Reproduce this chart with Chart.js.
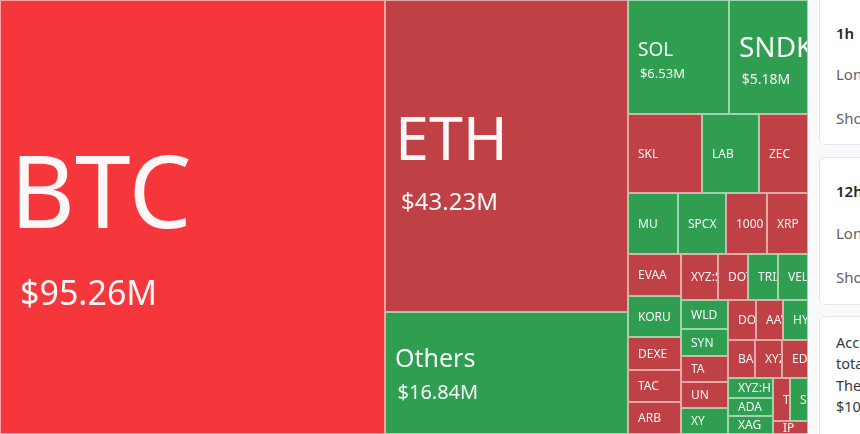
<!DOCTYPE html>
<html>
<head>
<meta charset="utf-8">
<script src="https://cdn.jsdelivr.net/npm/chart.js@4.4.1/dist/chart.umd.min.js"></script>
<style>
  html, body { margin:0; padding:0; width:860px; height:434px; overflow:hidden; background:#f8f9fa; font-family:"Noto Sans", sans-serif; }
  #wrap { position:absolute; left:0; top:0; width:808px; height:434px; overflow:hidden; background:#ffffff; }
  #tm { display:block; }
  .card { position:absolute; left:819px; width:300px; background:#fff; border:1px solid #e1e4e8; border-radius:6px; box-sizing:border-box; }
  .t { position:absolute; left:836px; white-space:nowrap; }
  .head { font-size:15px; line-height:20px; font-weight:600; color:#212529; }
  .row { font-size:15px; line-height:20px; color:#5f6368; }
  .note { font-size:14.5px; line-height:21.3px; color:#343a40; }
</style>
</head>
<body>
<div id="wrap"><canvas id="tm" width="808" height="434"></canvas></div>

<div class="card" style="top:-8px;height:153px"></div>
<div class="card" style="top:157px;height:148px"></div>
<div class="card" style="top:316px;height:140px"></div>

<div class="t head" style="top:23px">1h</div>
<div class="t row" style="top:64px">Long</div>
<div class="t row" style="top:108px">Short</div>
<div class="t head" style="top:181px">12h</div>
<div class="t row" style="top:223px">Long</div>
<div class="t row" style="top:267px">Short</div>
<div class="t note" style="top:332px">According<br>total<br>The<br>$10</div>

<script>
// ---- data (values in millions of USD) ----
const symbols = ["BTC","ETH","Others","SOL","SNDK","SKL","LAB","ZEC","MU","SPCX","1000","XRP","TA",
  "EVAA","KORU","DEXE","TAC","ARB","XYZ:SP","DOT","TRIA","VELVET","WLD","SYN",
  "UN","XY","DO","AAVE","HYPE","BASE","XYZ:H","XYZ:M","ED","IP","TAO","ADA","XAG","SENT"];
const liquidationsM = [95.26,43.23,16.84,6.53,5.18,3.29,2.57,2.21,1.71,1.67,1.43,1.43,0.70,
  1.25,1.22,1.00,0.97,0.95,0.95,0.78,0.78,0.78,0.78,0.75,
  0.70,0.70,0.64,0.62,0.59,0.57,0.52,0.57,0.55,0.27,0.43,0.45,0.45,0.43];
const dominantSide = ["long","long","short","short","short","long","short","long","short","short","long","long","long",
  "long","short","long","long","long","long","long","short","short","short","short",
  "long","short","long","long","short","long","short","long","long","long","long","short","short","short"];

// ---- styles ----
const COLORS = { long:'#bf4045', short:'#2f9e51', top:'#f5363a' };
const LABEL_FONTS = [ {name:100, value:34, shift:26}, {name:61, value:24, shift:14}, {name:25, value:20, shift:2}, {name:19, value:13, shift:4}, {name:28, value:14, shift:6} ];
const SMALL_FONT = 12;
const FONT = '"Noto Sans", sans-serif';
const ASPECT = 808 / 434;

// ---- layout (squarified, in data units) ----
const TOTAL = liquidationsM.reduce((a, b) => a + b, 0);
const X_MAX = Math.sqrt(TOTAL * ASPECT), Y_MAX = TOTAL / X_MAX;
const items = symbols.map((s, i) => ({ name:s, v:liquidationsM[i], side:dominantSide[i] }))
  .sort((a, b) => b.v - a.v);
items.forEach((d, i) => d.rank = i);

function squarify(nodes, x0, y0, x1, y1) {
  const out = [];
  const ratio = (1 + Math.sqrt(5)) / 2;
  let value = nodes.reduce((s, d) => s + d.v, 0);
  let i0 = 0; const n = nodes.length;
  while (i0 < n) {
    const dx = x1 - x0, dy = y1 - y0;
    let i1 = i0;
    let sum = nodes[i1++].v, minV = sum, maxV = sum;
    const alpha = Math.max(dy / dx, dx / dy) / (value * ratio);
    let beta = sum * sum * alpha;
    let minRatio = Math.max(maxV / beta, beta / minV);
    for (; i1 < n; ++i1) {
      const nv = nodes[i1].v;
      const s2 = sum + nv, mn = Math.min(minV, nv), mx = Math.max(maxV, nv);
      beta = s2 * s2 * alpha;
      const nr = Math.max(mx / beta, beta / mn);
      if (nr > minRatio) break;
      sum = s2; minV = mn; maxV = mx; minRatio = nr;
    }
    const row = nodes.slice(i0, i1);
    if (dx / dy <= 0.9) {
      const h = dy * sum / value; let x = x0;
      row.forEach(d => { const w = dx * d.v / sum; out.push(Object.assign({}, d, {x0:x, y0:y0, x1:x + w, y1:y0 + h})); x += w; });
      y0 += h;
    } else {
      const w = dx * sum / value; let y = y0;
      row.forEach(d => { const h = dy * d.v / sum; out.push(Object.assign({}, d, {x0:x0, y0:y, x1:x0 + w, y1:y + h})); y += h; });
      x0 += w;
    }
    value -= sum; i0 = i1;
  }
  return out;
}
const cells = squarify(items, 0, 0, X_MAX, Y_MAX);

const treemapPlugin = {
  id: 'treemapCells',
  afterDatasetsDraw(chart) {
    const { ctx } = chart; const xs = chart.scales.x, ys = chart.scales.y;
    ctx.save();
    const rects = cells.map(c => {
      const a = Math.round(xs.getPixelForValue(c.x0)), b = Math.round(xs.getPixelForValue(c.x1));
      const t = Math.round(ys.getPixelForValue(c.y0)), u = Math.round(ys.getPixelForValue(c.y1));
      return { c, x:a, y:t, w:b - a, h:u - t };
    });
    rects.forEach(r => {
      ctx.fillStyle = r.c.rank === 0 ? COLORS.top : COLORS[r.c.side];
      ctx.fillRect(r.x, r.y, r.w, r.h);
    });
    ctx.strokeStyle = 'rgba(255,255,255,0.55)'; ctx.lineWidth = 1;
    rects.forEach(r => { ctx.strokeRect(r.x + 0.5, r.y + 0.5, r.w - 1, r.h - 1); });
    rects.forEach(r => {
      const c = r.c;
      ctx.save();
      ctx.beginPath(); ctx.rect(r.x, r.y, r.w - 1, r.h - 1); ctx.clip();
      ctx.fillStyle = 'rgba(255,255,255,0.96)';
      ctx.textAlign = 'left'; ctx.textBaseline = 'alphabetic';
      const cy = r.y + r.h / 2;
      const st = LABEL_FONTS[c.rank];
      if (st) {
        const sep = 0.75 * (st.name + st.value);
        ctx.font = `400 ${st.name}px ${FONT}`;
        ctx.fillText(c.name, r.x + 10, cy - sep / 2 + st.shift + 0.357 * st.name);
        ctx.font = `400 ${st.value}px ${FONT}`;
        ctx.fillText('$' + c.v.toFixed(2) + 'M', r.x + 10 + 0.1 * st.name, cy + sep / 2 + st.shift + 0.357 * st.value);
      } else {
        ctx.font = `400 ${SMALL_FONT}px ${FONT}`;
        ctx.fillText(c.name, r.x + 10, cy + 0.357 * SMALL_FONT);
      }
      ctx.restore();
    });
    ctx.restore();
  }
};

new Chart(document.getElementById('tm'), {
  type: 'scatter',
  data: { datasets: [{ data: cells.map(c => ({ x:(c.x0 + c.x1) / 2, y:(c.y0 + c.y1) / 2 })), pointRadius:0, pointHoverRadius:0 }] },
  options: {
    responsive:false, animation:false, devicePixelRatio:1,
    layout:{ padding:0 },
    events: [],
    plugins:{ legend:{ display:false }, tooltip:{ enabled:false } },
    scales:{
      x:{ type:'linear', min:0, max:X_MAX, display:false },
      y:{ type:'linear', min:0, max:Y_MAX, reverse:true, display:false }
    }
  },
  plugins:[treemapPlugin]
});
</script>
</body>
</html>
